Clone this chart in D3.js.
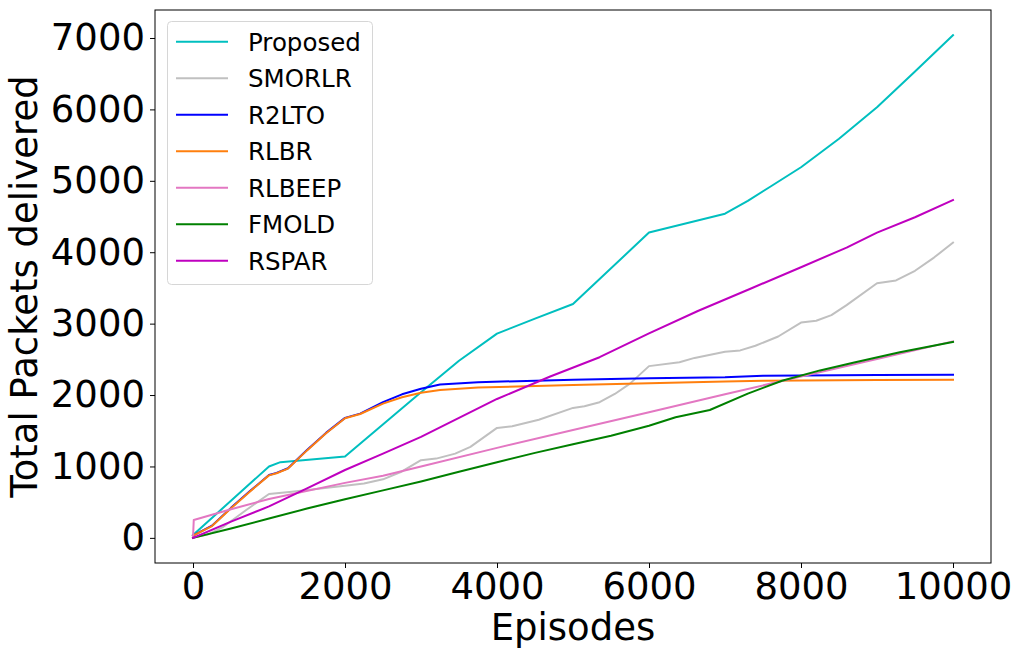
<!DOCTYPE html>
<html>
<head>
<meta charset="utf-8">
<script src="https://cdn.jsdelivr.net/npm/d3@7"></script>
<style>
  body { margin: 0; background: #fff; }
  text { font-family: "DejaVu Sans", sans-serif; }
</style>
</head>
<body>
<div id="chart"></div>
<script>
// [episode, total packets delivered]
var proposed = [[0,40],[1000,1000],[1150,1060],[2000,1140],[3000,2040],[3500,2480],[4000,2860],[4500,3070],[5000,3275],[6000,4275],[6400,4380],[7000,4540],[7300,4720],[7600,4920],[8000,5190],[8500,5590],[9000,6030],[9500,6530],[10000,7040]];
var smorlr = [[0,0],[200,50],[400,155],[700,390],[1000,615],[1300,645],[2000,730],[2250,760],[2500,820],[2750,930],[3000,1088],[3200,1110],[3450,1180],[3650,1275],[4000,1540],[4200,1562],[4550,1655],[5000,1820],[5150,1842],[5350,1900],[5550,2015],[5750,2160],[6000,2405],[6400,2460],[6600,2520],[7000,2605],[7200,2625],[7400,2690],[7700,2820],[8000,3015],[8200,3040],[8400,3120],[8600,3260],[9000,3565],[9250,3605],[9500,3740],[9750,3925],[10000,4135]];
var r2lto = [[0,30],[250,170],[500,420],[750,655],[1000,880],[1100,910],[1250,975],[1500,1230],[1750,1470],[2000,1680],[2200,1740],[2500,1900],[2750,2010],[3000,2088],[3250,2148],[3750,2180],[5000,2215],[6000,2235],[7000,2250],[7500,2270],[8000,2275],[9000,2280],[10000,2283]];
var rlbr = [[0,30],[250,165],[500,415],[750,650],[1000,875],[1100,905],[1250,970],[1500,1225],[1750,1465],[2000,1675],[2200,1735],[2500,1880],[2750,1970],[3000,2032],[3250,2072],[3750,2105],[5000,2140],[6000,2165],[7000,2190],[7500,2200],[8000,2205],[9000,2210],[10000,2213]];
var rlbeep = [[0,0],[10,250],[500,400],[1000,545],[2000,770],[2500,870],[3000,1000],[4000,1260],[5000,1510],[6000,1760],[7000,2010],[8000,2260],[9000,2505],[10000,2752]];
var fmold = [[0,0],[500,130],[1000,270],[1500,410],[2000,540],[2500,665],[3000,790],[3500,925],[4000,1060],[4500,1190],[5000,1310],[5500,1430],[6000,1570],[6350,1690],[6800,1790],[7300,2020],[7750,2200],[8250,2345],[8700,2455],[9300,2600],[10000,2745]];
var rspar = [[0,0],[500,228],[1000,440],[1500,693],[2000,950],[2500,1180],[3000,1415],[3500,1680],[4000,1945],[4700,2260],[5350,2530],[6000,2864],[6650,3180],[7350,3496],[8000,3790],[8600,4065],[9000,4275],[9500,4490],[10000,4730]];

var seriesNames = ["Proposed", "SMORLR", "R2LTO", "RLBR", "RLBEEP", "FMOLD", "RSPAR"];
var seriesColors = ["#00bfbf", "#c0c0c0", "#0000ff", "#ff7f0e", "#e377c2", "#008000", "#bf00bf"];
var seriesData = [proposed, smorlr, r2lto, rlbr, rlbeep, fmold, rspar];

var xTicks = [0, 2000, 4000, 6000, 8000, 10000];
var yTicks = [0, 1000, 2000, 3000, 4000, 5000, 6000, 7000];

var width = 1022, height = 658;
var margin = {top: 10, right: 31, bottom: 95, left: 155};

var svg = d3.select("#chart")
    .append("svg")
    .attr("width", width)
    .attr("height", height);

var x = d3.scaleLinear()
    .domain([-500, 10500])
    .range([margin.left, width - margin.right]);

var y = d3.scaleLinear()
    .domain([-352, 7392])
    .range([height - margin.bottom, margin.top]);

var xAxis = svg.append("g")
    .attr("transform", "translate(0," + (height - margin.bottom) + ")")
    .call(d3.axisBottom(x).tickValues(xTicks).tickSize(5).tickPadding(5).tickFormat(d3.format("d")));

var yAxis = svg.append("g")
    .attr("transform", "translate(" + margin.left + ",0)")
    .call(d3.axisLeft(y).tickValues(yTicks).tickSize(5).tickPadding(5).tickFormat(d3.format("d")));

svg.selectAll(".tick text")
    .attr("font-size", "37px")
    .attr("fill", "#000");
svg.selectAll(".tick line").attr("stroke", "#000").attr("stroke-width", 1);
svg.selectAll(".domain").remove();

var line = d3.line()
    .x(function(d) { return x(d[0]); })
    .y(function(d) { return y(d[1]); });

svg.append("g")
    .selectAll("path")
    .data(seriesData)
    .enter()
    .append("path")
    .attr("d", line)
    .attr("fill", "none")
    .attr("stroke", function(d, i) { return seriesColors[i]; })
    .attr("stroke-width", 2)
    .attr("stroke-linejoin", "round")
    .attr("stroke-linecap", "square");

// frame
svg.append("rect")
    .attr("x", margin.left)
    .attr("y", margin.top)
    .attr("width", width - margin.left - margin.right)
    .attr("height", height - margin.top - margin.bottom)
    .attr("fill", "none")
    .attr("stroke", "#000")
    .attr("stroke-width", 1);

svg.append("text")
    .attr("x", (margin.left + width - margin.right) / 2)
    .attr("y", 640)
    .attr("text-anchor", "middle")
    .attr("font-size", "37px")
    .text("Episodes");

svg.append("text")
    .attr("transform", "translate(37," + ((margin.top + height - margin.bottom) / 2) + ") rotate(-90)")
    .attr("text-anchor", "middle")
    .attr("font-size", "37px")
    .text("Total Packets delivered");

// legend
var legend = svg.append("g");
legend.append("rect")
    .attr("x", 167.5)
    .attr("y", 21.5)
    .attr("width", 205)
    .attr("height", 263)
    .attr("rx", 4)
    .attr("fill", "#fff")
    .attr("fill-opacity", 0.8)
    .attr("stroke", "#d6d6d6")
    .attr("stroke-width", 1);

var items = legend.selectAll(".item")
    .data(seriesNames)
    .enter()
    .append("g")
    .attr("transform", function(d, i) { return "translate(0," + (41.7 + i * 36.5) + ")"; });

items.append("line")
    .attr("x1", 176)
    .attr("x2", 228)
    .attr("stroke", function(d, i) { return seriesColors[i]; })
    .attr("stroke-width", 2);

items.append("text")
    .attr("x", 248)
    .attr("dy", "0.36em")
    .attr("font-size", "24.5px")
    .text(function(d) { return d; });
</script>
</body>
</html>
